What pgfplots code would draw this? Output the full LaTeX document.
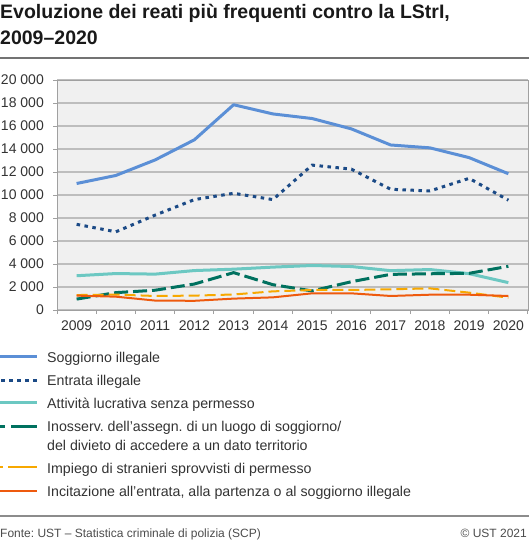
\documentclass[border=0pt]{standalone}
\usepackage{fontspec}
\setmainfont{Liberation Sans}
\usepackage{pgfplots}
\pgfplotsset{compat=1.18}
\frenchspacing

\definecolor{cSogg}{HTML}{5B8FD6}
\definecolor{cEntr}{HTML}{1B4A86}
\definecolor{cAtt}{HTML}{6CC8C2}
\definecolor{cInos}{HTML}{00715F}
\definecolor{cImp}{HTML}{F7A800}
\definecolor{cInc}{HTML}{EE5A0E}
\definecolor{bggray}{HTML}{F0F0F0}
\definecolor{gridgray}{HTML}{BDBDBD}
\definecolor{axgray}{HTML}{A0A0A0}
\definecolor{txt}{HTML}{333333}

\tikzset{
  sSogg/.style={cSogg, line width=3pt, line join=round},
  sEntr/.style={cEntr, line width=3pt, dash pattern=on 3.5pt off 4.5pt},
  sAtt/.style={cAtt, line width=3pt, line join=round},
  sInos/.style={cInos, line width=3pt, dash pattern=on 14pt off 5pt},
  sImp/.style={cImp, line width=2pt, dash pattern=on 11pt off 5pt},
  sInc/.style={cInc, line width=2pt, line join=round},
}

\begin{document}
\begin{tikzpicture}
\begin{scope}[x=1pt,y=1pt]
\useasboundingbox (0,0) rectangle (529,-543);

% title
\node[anchor=base west, inner sep=0, text=black!90,
      font=\fontsize{19.5}{22}\selectfont\bfseries] at (0,-18.5)
  {Evoluzione dei reati più frequenti contro la LStrI,};
\node[anchor=base west, inner sep=0, text=black!90,
      font=\fontsize{19.5}{22}\selectfont\bfseries] at (0,-45)
  {2009–2020};
\draw[black!55, line width=1.2pt] (0,-58) -- (529,-58);

% legend
\begin{scope}[every node/.style={anchor=base west, inner sep=0, text=txt,
      font=\fontsize{14.2}{17}\selectfont}]
\draw[sSogg] (0,-356) -- (36.5,-356);
\node at (47,-362.7) {Soggiorno illegale};
\draw[sEntr, dash phase=-1pt] (0,-380.7) -- (36.5,-380.7);
\node at (47,-385.7) {Entrata illegale};
\draw[sAtt] (0,-402.5) -- (36.5,-402.5);
\node at (47,-408.3) {Attività lucrativa senza permesso};
\draw[cInos, line width=3pt, dash pattern=on 5pt off 6pt on 26pt off 5pt] (0,-426) -- (36.5,-426);
\node at (47,-431.7) {Inosserv. dell’assegn. di un luogo di soggiorno/};
\node at (47,-450.7) {del divieto di accedere a un dato territorio};
\draw[cImp, line width=2pt, dash pattern=on 3pt off 5pt on 29pt off 5pt] (0,-467.3) -- (36.5,-467.3);
\node at (47,-473.3) {Impiego di stranieri sprovvisti di permesso};
\draw[sInc] (0,-490.7) -- (36.5,-490.7);
\node at (47,-496.7) {Incitazione all’entrata, alla partenza o al soggiorno illegale};
\end{scope}

% footer
\draw[black!45, line width=1.8pt] (0,-516) -- (529,-516);
\node[anchor=base west, inner sep=0, text=black!70, font=\fontsize{12}{14}\selectfont]
  at (0,-537.3) {Fonte: UST – Statistica criminale di polizia (SCP)};
\node[anchor=base east, inner sep=0, text=black!70, font=\fontsize{12}{14}\selectfont]
  at (527,-537.3) {© UST 2021};
\end{scope}

\begin{axis}[
    at={(57pt,-310pt)}, anchor=south west,
    scale only axis, width=471pt, height=230pt,
    xmin=2008.5, xmax=2020.5,
    ymin=0, ymax=20000,
    scaled y ticks=false,
    axis background/.style={fill=bggray},
    axis line style={axgray, line width=1pt},
    tick pos=left, tick align=outside,
    major tick length=4pt, minor tick length=4pt,
    tick style={axgray, line width=1pt},
    xtick={2009,...,2020},
    xticklabels={2009,2010,2011,2012,2013,2014,2015,2016,2017,2018,2019,2020},
    major x tick style={draw=none},
    minor xtick={2008.5,2009.5,...,2020.5},
    ytick={0,2000,...,20000},
    yticklabels={0,2~000,4~000,6~000,8~000,10~000,12~000,14~000,16~000,18~000,20~000},
    ymajorgrids,
    grid style={gridgray, line width=1.3pt},
    ticklabel style={font=\fontsize{14}{16}\selectfont, text=txt, inner sep=0pt},
    xticklabel style={yshift=-7pt},
    yticklabel style={xshift=-9pt},
]
\addplot[sSogg] coordinates {
(2009,11000) (2010,11700) (2011,13050) (2012,14800) (2013,17850) (2014,17050)
(2015,16650) (2016,15750) (2017,14350) (2018,14100) (2019,13250) (2020,11850)};
\addplot[sEntr] coordinates {
(2009,7450) (2010,6800) (2011,8250) (2012,9600) (2013,10150) (2014,9600)
(2015,12600) (2016,12250) (2017,10500) (2018,10350) (2019,11450) (2020,9550)};
\addplot[sAtt] coordinates {
(2009,2980) (2010,3170) (2011,3120) (2012,3430) (2013,3550) (2014,3730)
(2015,3870) (2016,3780) (2017,3420) (2018,3520) (2019,3160) (2020,2380)};
\addplot[sInos] coordinates {
(2009,950) (2010,1510) (2011,1720) (2012,2260) (2013,3250) (2014,2200)
(2015,1660) (2016,2460) (2017,3100) (2018,3150) (2019,3190) (2020,3800)};
\addplot[sImp] coordinates {
(2009,1300) (2010,1340) (2011,1220) (2012,1250) (2013,1350) (2014,1620)
(2015,1740) (2016,1740) (2017,1800) (2018,1880) (2019,1510) (2020,1070)};
\addplot[sInc] coordinates {
(2009,1250) (2010,1160) (2011,820) (2012,800) (2013,990) (2014,1100)
(2015,1450) (2016,1450) (2017,1220) (2018,1330) (2019,1330) (2020,1220)};
\end{axis}
\end{tikzpicture}
\end{document}
